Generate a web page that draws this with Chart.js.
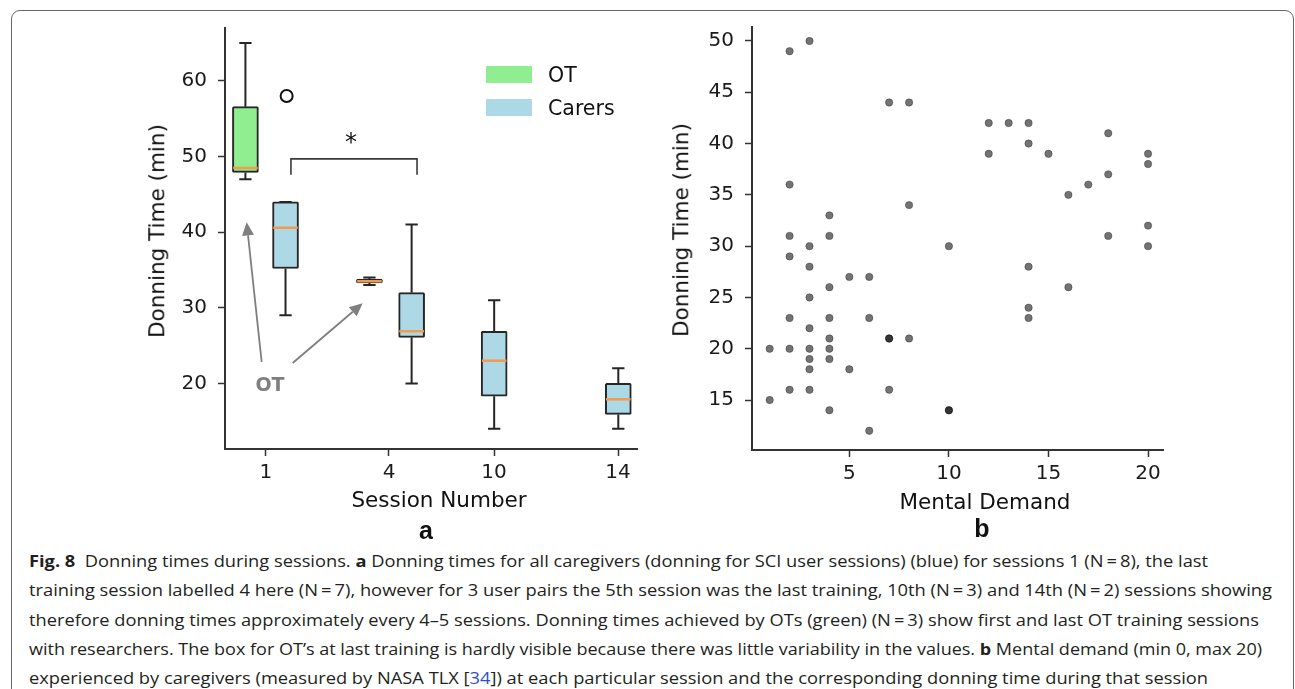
<!DOCTYPE html>
<html>
<head>
<meta charset="utf-8">
<script src="https://cdn.jsdelivr.net/npm/chart.js@4.4.0/dist/chart.umd.min.js"></script>
<style>
  body { margin: 0; width: 1295px; height: 689px; overflow: hidden; position: relative; background: #fff; font-family: 'DejaVu Sans', sans-serif; color: #111; }
  #frame { position: absolute; left: 11px; top: 10px; width: 1283px; height: 720px; border: 1px solid #666; border-radius: 9px; box-sizing: border-box; }
  .abs { position: absolute; white-space: nowrap; }
  #boxWrap { position: absolute; left: 130px; top: 20px; width: 520px; height: 520px; }
  #scatWrap { position: absolute; left: 690px; top: 20px; width: 490px; height: 520px; }
  .ttl { font-size: 21.5px; transform: translate(-50%, -50%); line-height: 1; }
  .ttl.rot { transform: translate(-50%, -50%) rotate(-90deg); }
  .panel { font-family: 'Liberation Sans', Arial, sans-serif; font-weight: bold; font-size: 25px; transform: translate(-50%, -50%); line-height: 1; }
  .patch { position: absolute; width: 46px; height: 17px; }
  .leg { font-size: 20.5px; line-height: 1; transform: translateY(-50%); }
  .cap { position: absolute; left: 29px; font-family: 'Open Sans', sans-serif; font-size: 16px; line-height: 20px; color: #231f20; white-space: nowrap; transform-origin: 0 50%; display: inline-block; }
  .cap b { font-weight: 700; }
  .ref { color: #2d4fd6; }
</style>
</head>
<body>
<div id="frame"></div>

<div id="boxWrap"><canvas id="boxChart"></canvas></div>
<div id="scatWrap"><canvas id="scatterChart"></canvas></div>

<!-- legend of panel a -->
<div class="patch" style="left:486px; top:66px; background:#90ee90;"></div>
<div class="abs leg" style="left:548px; top:75px;">OT</div>
<div class="patch" style="left:486px; top:99px; background:#add8e6;"></div>
<div class="abs leg" style="left:548px; top:108px;">Carers</div>

<!-- axis titles and panel letters -->
<div class="abs ttl rot" style="left:157px; top:231px;">Donning Time (min)</div>
<div class="abs ttl" style="left:439px; top:500px;">Session Number</div>
<div class="abs panel" style="left:426px; top:530px;">a</div>

<div class="abs ttl rot" style="left:681px; top:230px;">Donning Time (min)</div>
<div class="abs ttl" style="left:985px; top:502px;">Mental Demand</div>
<div class="abs panel" style="left:982px; top:528px;">b</div>

<!-- caption -->
<div class="cap" data-w="1179" style="top:551px;"><b>Fig. 8</b>&nbsp; Donning times during sessions. <b>a</b> Donning times for all caregivers (donning for SCI user sessions) (blue) for sessions 1 (N&thinsp;=&thinsp;8), the last</div>
<div class="cap" data-w="1243" style="top:580px;">training session labelled 4 here (N&thinsp;=&thinsp;7), however for 3 user pairs the 5th session was the last training, 10th (N&thinsp;=&thinsp;3) and 14th (N&thinsp;=&thinsp;2) sessions showing</div>
<div class="cap" data-w="1230" style="top:610px;">therefore donning times approximately every 4–5 sessions. Donning times achieved by OTs (green) (N&thinsp;=&thinsp;3) show first and last OT training sessions</div>
<div class="cap" data-w="1233" style="top:639px;">with researchers. The box for OT’s at last training is hardly visible because there was little variability in the values. <b>b</b> Mental demand (min 0, max 20)</div>
<div class="cap" data-w="1179" style="top:668px;">experienced by caregivers (measured by NASA TLX [<span class="ref">34</span>]) at each particular session and the corresponding donning time during that session</div>

<script>
// ---------- panel a: donning time per session (box plots) ----------
const sessionLabels = ['1', '4', '10', '14'];
const sessionTicks = [0, 1, 1.854, 2.862];   // the session axis is not evenly spaced in the original

const otSlots = [-0.167, 0.841];
const otLow = [47, 33];
const otQ1 = [47.9, 33.3];
const otMedian = [48.5, 33.5];
const otQ3 = [56.6, 33.8];
const otHigh = [65, 34];

const carerSlots = [0.159, 1.184, 1.855, 2.864];
const carerLow = [29, 20, 14, 14];
const carerQ1 = [35.2, 26.1, 18.3, 15.9];
const carerMedian = [40.6, 26.9, 23, 17.9];
const carerQ3 = [44, 32, 26.9, 20];
const carerHigh = [44, 41, 31, 22];

const outlierSlots = [0.168];
const outlierValues = [58];

// significance bracket between session 1 and session 4 (carers)
const bracketX = [0.203, 0.203, 1.228, 1.228];
const bracketY = [47.6, 49.7, 49.7, 47.6];
const starX = 0.691, starY = 50.9;

// "OT" note with arrows to the two OT boxes
const arrowTailX = [-0.035, 0.217];
const arrowTailY = [22.85, 22.7];
const arrowHeadX = [-0.157, 0.786];
const arrowHeadY = [41.3, 30.6];
const otNoteX = 0.033, otNoteY = 19.7;

// ---------- panel b: mental demand vs donning time ----------
const mentalDemand = [
  1, 1,
  2, 2, 2, 2, 2, 2, 2,
  3, 3, 3, 3, 3, 3, 3, 3, 3,
  4, 4, 4, 4, 4, 4, 4, 4,
  5, 5,
  6, 6, 6,
  7, 7, 7, 7,
  8, 8, 8,
  10, 10, 10,
  12, 12,
  13,
  14, 14, 14, 14, 14,
  15,
  16, 16,
  17,
  18, 18, 18,
  20, 20, 20, 20
];
const donningTime = [
  20, 15,
  49, 36, 31, 29, 23, 20, 16,
  50, 30, 28, 25, 22, 20, 19, 18, 16,
  33, 31, 26, 23, 21, 20, 19, 14,
  27, 18,
  27, 23, 12,
  44, 21, 21, 16,
  44, 34, 21,
  30, 14, 14,
  42, 39,
  42,
  42, 40, 28, 24, 23,
  39,
  35, 26,
  36,
  41, 37, 31,
  39, 38, 32, 30
];

Chart.defaults.font.family = "'DejaVu Sans', sans-serif";
Chart.defaults.color = '#1a1a1a';

const CAP = 0.05;      // half width of whisker caps (session units)
const MED = 0.1;       // half width of median line

function gap(x) { return {x: x, y: null}; }

function whiskers(slots, low, q1, q3, high) {
  const pts = [];
  slots.forEach((x, i) => {
    pts.push({x, y: low[i]}, {x, y: q1[i]}, gap(x));
    pts.push({x, y: q3[i]}, {x, y: high[i]}, gap(x));
    pts.push({x: x - CAP, y: low[i]}, {x: x + CAP, y: low[i]}, gap(x));
    pts.push({x: x - CAP, y: high[i]}, {x: x + CAP, y: high[i]}, gap(x));
  });
  return pts;
}

function medians(slots, med) {
  const pts = [];
  slots.forEach((x, i) => {
    pts.push({x: x - MED, y: med[i]}, {x: x + MED, y: med[i]}, gap(x));
  });
  return pts;
}

function axis(min, max, values, labelFn, isX, size) {
  return {
    type: 'linear',
    min: min,
    max: max,
    offset: false,
    beginAtZero: false,
    afterBuildTicks: (scale) => { scale.ticks = values.map(v => ({value: v})); },
    afterFit: (scale) => {
      if (isX) scale.height = size; else scale.width = size;
      scale.paddingTop = 0; scale.paddingBottom = 0; scale.paddingLeft = 0; scale.paddingRight = 0;
    },
    grid: { display: true, offset: false, drawOnChartArea: false, drawTicks: true, tickLength: 7, tickWidth: 1.5, tickColor: '#333' },
    border: { display: true, color: '#333', width: 2 },
    ticks: {
      autoSkip: false,
      maxRotation: 0,
      padding: isX ? 5 : 11,
      font: { size: 20 },
      color: '#1a1a1a',
      callback: labelFn
    }
  };
}

// arrows, star and "OT" note drawn in data coordinates
const boxNotes = {
  id: 'boxNotes',
  afterDatasetsDraw(chart) {
    const {ctx} = chart;
    const x = chart.scales.x, y = chart.scales.y;
    ctx.save();
    ctx.strokeStyle = '#7f7f7f';
    ctx.fillStyle = '#7f7f7f';
    ctx.lineWidth = 1.8;
    arrowTailX.forEach((_, i) => {
      const x0 = x.getPixelForValue(arrowTailX[i]), y0 = y.getPixelForValue(arrowTailY[i]);
      const x1 = x.getPixelForValue(arrowHeadX[i]), y1 = y.getPixelForValue(arrowHeadY[i]);
      const a = Math.atan2(y1 - y0, x1 - x0);
      const len = 13, half = 6;
      const bx = x1 - len * Math.cos(a), by = y1 - len * Math.sin(a);
      ctx.beginPath();
      ctx.moveTo(x0, y0);
      ctx.lineTo(bx, by);
      ctx.stroke();
      ctx.beginPath();
      ctx.moveTo(x1, y1);
      ctx.lineTo(bx + half * Math.sin(a), by - half * Math.cos(a));
      ctx.lineTo(bx - half * Math.sin(a), by + half * Math.cos(a));
      ctx.closePath();
      ctx.fill();
    });
    ctx.font = "bold 19px 'DejaVu Sans'";
    ctx.textAlign = 'center';
    ctx.textBaseline = 'middle';
    ctx.fillText('OT', x.getPixelForValue(otNoteX), y.getPixelForValue(otNoteY));
    ctx.fillStyle = '#111';
    ctx.font = "24px 'DejaVu Sans'";
    ctx.textBaseline = 'alphabetic';
    ctx.fillText('*', x.getPixelForValue(starX), y.getPixelForValue(starY));
    ctx.restore();
  }
};

const lineSeg = (data, color, width, order) => ({
  type: 'scatter',
  data: data,
  showLine: true,
  spanGaps: false,
  borderColor: color,
  borderWidth: width,
  borderCapStyle: 'butt',
  pointRadius: 0,
  order: order
});

new Chart(document.getElementById('boxChart'), {
  type: 'bar',
  data: {
    datasets: [
      {
        label: 'OT',
        data: otSlots.map((x, i) => ({x, y: [otQ1[i], otQ3[i]]})),
        backgroundColor: '#90ee90',
        borderColor: '#262626',
        borderWidth: 2,
        borderSkipped: false,
        borderRadius: 1.5,
        barThickness: 26,
        grouped: false,
        order: 1
      },
      {
        label: 'Carers',
        data: carerSlots.map((x, i) => ({x, y: [carerQ1[i], carerQ3[i]]})),
        backgroundColor: '#add8e6',
        borderColor: '#262626',
        borderWidth: 2,
        borderSkipped: false,
        borderRadius: 1.5,
        barThickness: 26,
        grouped: false,
        order: 1
      },
      lineSeg(whiskers(otSlots, otLow, otQ1, otQ3, otHigh), '#262626', 2, 2),
      lineSeg(whiskers(carerSlots, carerLow, carerQ1, carerQ3, carerHigh), '#262626', 2, 2),
      lineSeg(medians(otSlots, otMedian), '#f39a4c', 2.5, 0),
      lineSeg(medians(carerSlots, carerMedian), '#f39a4c', 2.5, 0),
      lineSeg(bracketX.map((x, i) => ({x, y: bracketY[i]})), '#3a3a3a', 1.6, 0),
      {
        type: 'scatter',
        data: outlierSlots.map((x, i) => ({x, y: outlierValues[i]})),
        pointRadius: 6,
        pointBackgroundColor: 'rgba(0,0,0,0)',
        pointBorderColor: '#111',
        pointBorderWidth: 2,
        order: 0
      }
    ]
  },
  options: {
    responsive: true,
    maintainAspectRatio: false,
    animation: false,
    events: [],
    layout: { padding: { top: 7, right: 13, left: 0, bottom: 0 } },
    plugins: { legend: { display: false }, tooltip: { enabled: false } },
    scales: {
      x: axis(-0.333, 3.016, sessionTicks, (v) => sessionLabels[sessionTicks.indexOf(v)], true, 91),
      y: axis(11.33, 67.0, [20, 30, 40, 50, 60], (v) => String(v), false, 95)
    }
  },
  plugins: [boxNotes]
});

new Chart(document.getElementById('scatterChart'), {
  type: 'scatter',
  data: {
    datasets: [{
      label: 'Donning time',
      data: mentalDemand.map((m, i) => ({x: m, y: donningTime[i]})),
      pointRadius: 3.7,
      pointBackgroundColor: 'rgba(0,0,0,0.55)',
      pointBorderColor: 'rgba(0,0,0,0.3)',
      pointBorderWidth: 1
    }]
  },
  options: {
    responsive: true,
    maintainAspectRatio: false,
    animation: false,
    events: [],
    layout: { padding: { top: 7, right: 17, left: 0, bottom: 0 } },
    plugins: { legend: { display: false }, tooltip: { enabled: false } },
    scales: {
      x: axis(0.113, 20.75, [5, 10, 15, 20], (v) => String(v), true, 90),
      y: axis(10.13, 51.36, [15, 20, 25, 30, 35, 40, 45, 50], (v) => String(v), false, 62)
    }
  }
});

// stretch each caption line to the width it has in the figure
document.querySelectorAll('.cap').forEach(el => {
  const target = Number(el.dataset.w);
  const w = el.getBoundingClientRect().width;
  if (w > 0) el.style.transform = 'scaleX(' + (target / w) + ')';
});
</script>
</body>
</html>
